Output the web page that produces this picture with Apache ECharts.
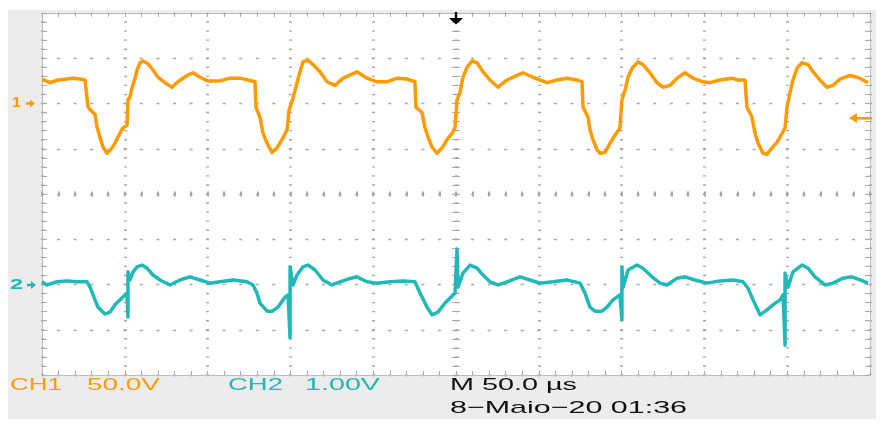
<!DOCTYPE html>
<html>
<head>
<meta charset="utf-8">
<script src="https://cdn.jsdelivr.net/npm/echarts@6/dist/echarts.min.js"></script>
<style>
html,body{margin:0;padding:0;background:#ffffff;}
#c{width:882px;height:428px;}
</style>
</head>
<body>
<div id="c"></div>
<script>
// ---------- DATA (read from the oscilloscope screen) ----------
// time in microseconds from left edge of screen (50 us/div, 10 div)
const ch1Time = [0,4.8,9.7,18.7,22.9,26.0,27.8,30.2,32.0,33.2,35.0,36.8,39.3,42.3,44.1,45.9,48.9,51.3,51.9,53.1,54.3,56.2,57.4,59.2,61.0,64.0,67.0,70.0,74.3,78.5,82.1,87.6,91.2,95.4,100.2,107.5,113.5,119.6,124.4,128.6,
  129.2,131.6,133.5,135.9,138.9,141.9,144.9,148.0,149.2,151.6,154.0,155.8,157.6,160.6,163.7,167.9,172.1,176.9,181.8,190.2,196.3,202.3,208.3,214.4,220.4,225.2,
  225.8,229.5,231.3,233.1,235.5,238.5,241.6,244.6,247.6,249.4,250.6,252.4,254.2,256.6,259.7,262.7,266.3,270.5,275.4,280.8,286.8,290.5,296.5,305.0,311.0,317.0,323.1,326.1,
  326.7,329.7,330.9,332.7,335.1,337.0,340.0,343.0,346.0,349.0,350.2,352.1,353.9,356.3,359.9,362.9,367.1,371.4,375.0,379.2,383.5,388.3,393.1,399.2,403.4,409.4,416.7,420.3,424.5,
  425.7,428.7,430.6,432.4,435.4,437.8,440.8,443.8,446.9,448.7,449.9,451.7,453.5,455.9,458.9,462.6,465.6,469.8,474.0,477.7,481.9,487.9,492.1,495.8,498.8];
// CH1 volts (50 V/div)
const ch1Volts = [27,23,26,28,27,26,-4,-9,-12,-26,-37,-48,-55,-49,-44,-37,-27,-24,4,7,17,28,37,45,47,44,37,29,23,18,24,31,34,29,25,25,28,28,26,24,
  -4,-15,-33,-44,-54,-49,-40,-29,-7,6,23,35,46,48,43,35,24,20,28,35,28,24,24,28,27,24,
  -4,-10,-27,-37,-48,-55,-49,-40,-33,-27,4,12,29,40,47,45,35,26,18,26,31,34,29,23,26,28,26,24,
  -4,-15,-29,-40,-51,-55,-54,-44,-35,-27,4,15,29,39,46,43,34,23,18,20,28,34,28,24,23,26,28,26,26,
  -4,-15,-33,-44,-55,-56,-49,-43,-33,-27,-4,12,26,39,45,43,35,26,18,20,27,31,29,26,23];

const ch2Time = [0,3.0,9.1,15.1,21.1,27.2,29.0,30.8,33.8,38.0,41.1,44.1,48.3,51.3,51.9,51.9,53.1,55.0,57.4,60.4,63.4,67.0,71.3,77.3,83.3,89.4,95.4,101.5,107.5,115.3,123.8,
  127.4,129.8,131.6,135.9,138.9,142.5,146.7,148.6,149.8,149.8,151.6,154.0,157.6,160.6,164.9,169.7,175.1,180.0,184.8,190.2,196.3,202.3,210.1,218.0,225.2,
  228.3,232.5,235.5,239.1,243.4,246.4,249.4,250.6,251.2,254.2,258.5,262.7,266.3,270.5,275.4,280.8,288.7,294.7,300.7,308.6,317.0,324.9,
  327.9,330.9,333.9,338.2,341.2,344.8,349.0,350.2,350.2,350.9,353.9,359.3,362.9,368.4,373.2,377.4,383.5,388.3,394.3,401.6,409.4,417.3,423.3,
  426.3,429.4,433.6,437.8,441.4,445.7,447.5,448.7,448.7,450.5,453.5,458.9,462.6,466.8,472.8,477.7,483.7,489.1,494.0,498.8];
// CH2 volts (1.00 V/div)
const ch2Volts = [0.06,-0.01,0.06,0.08,0.06,0.06,-0.06,-0.23,-0.50,-0.65,-0.61,-0.45,-0.30,-0.19,-0.72,0.28,0.10,0.28,0.39,0.43,0.36,0.21,0.10,-0.01,0.10,0.17,0.10,0.03,0.06,0.10,0.06,
  -0.01,-0.19,-0.41,-0.59,-0.59,-0.50,-0.28,-0.23,-1.18,0.39,-0.01,0.21,0.39,0.43,0.32,0.10,-0.01,0.06,0.12,0.17,0.06,0.03,0.06,0.08,0.06,
  -0.19,-0.50,-0.67,-0.61,-0.41,-0.30,-0.19,0.78,-0.06,0.25,0.43,0.36,0.21,0.06,-0.01,0.06,0.17,0.10,0.03,0.06,0.10,0.03,
  -0.19,-0.50,-0.59,-0.59,-0.50,-0.34,-0.23,-0.78,0.39,-0.06,0.32,0.43,0.36,0.17,0.03,-0.01,0.14,0.17,0.10,0.03,0.08,0.10,0.06,
  -0.08,-0.34,-0.67,-0.56,-0.45,-0.34,-0.23,-1.34,0.25,-0.06,0.28,0.43,0.36,0.17,-0.01,0.03,0.14,0.17,0.10,0.03];

// screen settings
const timeRange = [0, 500];        // 10 div x 50 us
const ch1Range = [-300, 100];      // ground marker 2 div above centre, 50 V/div
const ch2Range = [-2, 6];          // ground marker 2 div below centre, 1 V/div
const divX = [-5, 5];
const divY = [-4, 4];

// texts
const channelMarkers = ['1', '2'];
const footerTexts = ['CH1', '50.0V', 'CH2', '1.00V', 'M 50.0 \u00b5s', '8\u2212Maio\u221220 01:36'];

// ---------- LAYOUT / STYLE ----------
const ORANGE = '#ff9a00';
const TEAL = '#20b8b8';
const GL = 42, GT = 13, GW = 828, GH = 362;
const DOT = '#a9a9a9';
const TICK = '#a9a9a9';
const BORDER = '#bcbcbc';

const footerLayout = [
  {x: 10, w: 52, y: 385.5, c: ORANGE},
  {x: 87, w: 73, y: 385.5, c: ORANGE},
  {x: 228, w: 55, y: 385.5, c: TEAL},
  {x: 305, w: 75, y: 385.5, c: TEAL},
  {x: 450, w: 127, y: 385.5, c: '#111111'},
  {x: 450, w: 237, y: 408, c: '#111111'}
];

const mctx = document.createElement('canvas').getContext('2d');
function stretchedText(str, x, yMid, targetW, color, size, weight) {
  const font = (weight || 'normal') + ' ' + size + 'px "Liberation Sans", Arial, sans-serif';
  mctx.font = font;
  const w = mctx.measureText(str).width || 1;
  return {
    type: 'text', x: x, y: yMid, scaleX: targetW / w, scaleY: 1, z: 10,
    style: {text: str, x: 0, y: 0, font: font, fill: color,
            textAlign: 'left', textVerticalAlign: 'middle', align: 'left', verticalAlign: 'middle'}
  };
}

function rightArrow(x0, y, color) {
  return {type: 'polygon', z: 10, shape: {points: [[x0, y - 1.2], [x0 + 4, y - 1.2], [x0 + 4, y - 4], [x0 + 9, y], [x0 + 4, y + 4], [x0 + 4, y + 1.2], [x0, y + 1.2]]}, style: {fill: color}};
}

const graphics = [
  {type: 'rect', z: -5, shape: {x: 8, y: 10, width: 868, height: 409}, style: {fill: '#ececec'}},
  {type: 'rect', z: -4, shape: {x: GL, y: GT, width: GW, height: GH}, style: {fill: '#ffffff'}},
  stretchedText(channelMarkers[0], 12, 103.5, 9, ORANGE, 14, 'bold'),
  rightArrow(26, 103.5, ORANGE),
  stretchedText(channelMarkers[1], 10, 285, 13, TEAL, 14, 'bold'),
  rightArrow(27, 285, TEAL),
  // trigger position marker (top centre)
  {type: 'polygon', z: 10, shape: {points: [[454.8, 12], [457.2, 12], [457.2, 18], [463, 18], [456, 24.5], [449, 18], [454.8, 18]]}, style: {fill: '#000000'}},
  // trigger level marker (right)
  {type: 'polygon', z: 10, shape: {points: [[849, 118], [857, 113], [857, 117], [872, 117], [872, 119.5], [857, 119.5], [857, 123]]}, style: {fill: ORANGE}}
];
footerTexts.forEach(function (t, i) {
  const L = footerLayout[i];
  graphics.push(stretchedText(t, L.x, L.y, L.w, L.c, 17, 'normal'));
});

const tickStyle = {color: TICK, width: 1};
const centreTickStyle = {color: TICK, width: 2};
function borderX(pos) {
  return {
    type: 'value', min: divX[0], max: divX[1], interval: 1, position: pos,
    axisLine: {show: true, onZero: false, lineStyle: {color: BORDER, width: 1}},
    axisTick: {show: true, inside: true, length: 4, lineStyle: tickStyle},
    minorTick: {show: true, splitNumber: 5, length: 4, lineStyle: tickStyle},
    axisLabel: {show: false}, splitLine: {show: false}, silent: true
  };
}
function borderY(pos) {
  return {
    type: 'value', min: divY[0], max: divY[1], interval: 1, position: pos,
    axisLine: {show: true, onZero: false, lineStyle: {color: BORDER, width: 1}},
    axisTick: {show: true, inside: true, length: 5, lineStyle: tickStyle},
    minorTick: {show: true, splitNumber: 5, length: 5, lineStyle: tickStyle},
    axisLabel: {show: false}, splitLine: {show: false}, silent: true
  };
}
function centreX(inside) {
  return {
    type: 'value', min: divX[0], max: divX[1], interval: 1, position: 'bottom',
    axisLine: {show: true, onZero: true, onZeroAxisIndex: 0, lineStyle: {color: 'rgba(0,0,0,0)'}},
    axisTick: {show: true, inside: inside, length: 2.5, lineStyle: centreTickStyle},
    minorTick: {show: true, splitNumber: 5, length: 2.5, lineStyle: centreTickStyle},
    axisLabel: {show: false}, splitLine: {show: false}, silent: true
  };
}
function centreY(inside) {
  return {
    type: 'value', min: divY[0], max: divY[1], interval: 1, position: 'left',
    axisLine: {show: true, onZero: true, onZeroAxisIndex: 0, lineStyle: {color: 'rgba(0,0,0,0)'}},
    axisTick: {show: true, inside: inside, length: 4, lineStyle: tickStyle},
    minorTick: {show: true, splitNumber: 5, length: 4, lineStyle: tickStyle},
    axisLabel: {show: false}, splitLine: {show: false}, silent: true
  };
}

const x0 = borderX('bottom');
x0.splitLine = {show: true, lineStyle: {color: DOT, width: 3, type: [1.4, GH / 40 - 1.4], dashOffset: 0.7}};
const y0 = borderY('left');
y0.splitLine = {show: true, lineStyle: {color: DOT, width: 1.3, type: [3, GW / 50 - 3], dashOffset: 1.5}};

const option = {
  animation: false,
  backgroundColor: '#ffffff',
  grid: {left: GL, top: GT, width: GW, height: GH, show: false, containLabel: false, outerBoundsMode: 'none'},
  graphic: {elements: graphics},
  xAxis: [
    x0,
    borderX('top'),
    centreX(true),
    centreX(false),
    {type: 'value', min: timeRange[0], max: timeRange[1], show: false}
  ],
  yAxis: [
    y0,
    borderY('right'),
    centreY(true),
    centreY(false),
    {type: 'value', min: ch1Range[0], max: ch1Range[1], show: false},
    {type: 'value', min: ch2Range[0], max: ch2Range[1], show: false}
  ],
  series: [
    {
      name: 'CH1', type: 'line', xAxisIndex: 4, yAxisIndex: 4, symbol: 'none', z: 5,
      lineStyle: {color: ORANGE, width: 3.5, join: 'round'},
      data: ch1Time.map(function (t, i) { return [t, ch1Volts[i]]; })
    },
    {
      name: 'CH2', type: 'line', xAxisIndex: 4, yAxisIndex: 5, symbol: 'none', z: 5,
      lineStyle: {color: TEAL, width: 3.5, join: 'round'},
      data: ch2Time.map(function (t, i) { return [t, ch2Volts[i]]; })
    }
  ]
};

const chart = echarts.init(document.getElementById('c'), null, {renderer: 'canvas', width: 882, height: 428});
chart.setOption(option);
</script>
</body>
</html>
